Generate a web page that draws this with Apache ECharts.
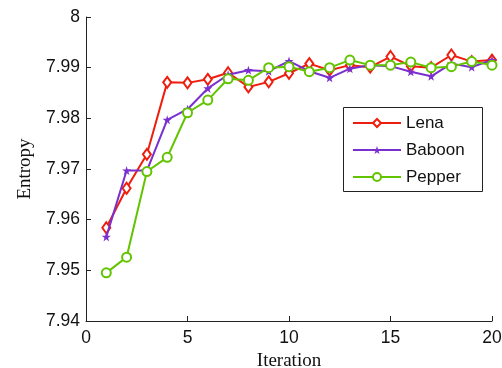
<!DOCTYPE html>
<html>
<head>
<meta charset="utf-8">
<script src="https://cdn.jsdelivr.net/npm/echarts@6/dist/echarts.min.js"></script>
<style>
  html, body { margin: 0; padding: 0; background: #fff; }
  #chart { width: 502px; height: 368px; }
</style>
</head>
<body>
<div id="chart"></div>
<script>
// data
const iterations = [1, 2, 3, 4, 5, 6, 7, 8, 9, 10, 11, 12, 13, 14, 15, 16, 17, 18, 19, 20];
const lena = [7.9584, 7.9662, 7.9729, 7.9871, 7.9870, 7.9877, 7.9890, 7.9862, 7.9872, 7.9889,
  7.9908, 7.9895, 7.9905, 7.9901, 7.9922, 7.9903, 7.9900, 7.9925, 7.9912, 7.9915];
const baboon = [7.9566, 7.9697, 7.9697, 7.9797, 7.9818, 7.9859, 7.9886, 7.9895, 7.9893, 7.9913,
  7.9893, 7.9880, 7.9898, 7.9905, 7.9903, 7.9892, 7.9883, 7.9908, 7.9901, 7.9915];
const pepper = [7.9495, 7.9526, 7.9695, 7.9723, 7.9811, 7.9836, 7.9878, 7.9875, 7.9900, 7.9902,
  7.9892, 7.9900, 7.9915, 7.9905, 7.9905, 7.9911, 7.9900, 7.9902, 7.9912, 7.9905];
const seriesNames = ["Lena", "Baboon", "Pepper"];

const colors = { Lena: "#ee1e0e", Baboon: "#7a2fcf", Pepper: "#62c400" };

// little star used for the baboon markers
const starPath = "path://M5,0 L6.2,3.6 L10,3.6 L7,5.9 L8.1,9.5 L5,7.3 L1.9,9.5 L3,5.9 L0,3.6 L3.8,3.6 Z";

const pairs = (ys) => iterations.map((x, i) => [x, ys[i]]);

const chart = echarts.init(document.getElementById("chart"), null, { renderer: "canvas" });

const option = {
  backgroundColor: "#fff",
  animation: false,
  // keep the plot box fixed, labels may sit outside it
  grid: { left: 86, right: 10, top: 17, bottom: 47, outerBoundsMode: "none", containLabel: false },
  xAxis: {
    type: "value",
    min: 0,
    max: 20,
    interval: 5,
    name: "Iteration",
    nameLocation: "middle",
    nameGap: 28,
    nameTextStyle: { fontFamily: "Liberation Serif", fontSize: 19, color: "#111" },
    axisLine: { lineStyle: { color: "#222", width: 1 } },
    axisTick: { inside: true, length: 5, lineStyle: { color: "#222" } },
    axisLabel: { fontFamily: "Liberation Sans", fontSize: 17.5, color: "#111", margin: 8 },
    splitLine: { show: false },
  },
  yAxis: {
    type: "value",
    min: 7.94,
    max: 8,
    interval: 0.01,
    name: "Entropy",
    nameLocation: "middle",
    nameGap: 51,
    nameTextStyle: { fontFamily: "Liberation Serif", fontSize: 19, color: "#111" },
    axisLine: { show: true, lineStyle: { color: "#222", width: 1 } },
    axisTick: { show: true, inside: true, length: 5, lineStyle: { color: "#222" } },
    axisLabel: {
      fontFamily: "Liberation Sans",
      fontSize: 17.5,
      color: "#111",
      margin: 6,
      formatter: (v) => String(+v.toFixed(2)),
    },
    splitLine: { show: false },
  },
  legend: {
    data: seriesNames,
    orient: "vertical",
    left: 352,
    top: 114,
    itemWidth: 48,
    itemHeight: 10,
    itemGap: 9,
    padding: 0,
    textStyle: { fontFamily: "Liberation Sans", fontSize: 17, color: "#111", lineHeight: 18 },
  },
  graphic: [
    {
      type: "rect",
      left: 343,
      top: 107,
      shape: { width: 139, height: 84 },
      style: { fill: "#fff", stroke: "#222", lineWidth: 1 },
    },
  ],
  series: [
    {
      name: "Lena",
      type: "line",
      data: pairs(lena),
      color: colors.Lena,
      symbol: "emptyDiamond",
      symbolSize: [8, 11],
      lineStyle: { width: 2 },
      itemStyle: { borderWidth: 2 },
      z: 3,
    },
    {
      name: "Baboon",
      type: "line",
      data: pairs(baboon),
      color: colors.Baboon,
      symbol: starPath,
      symbolSize: 9,
      lineStyle: { width: 2 },
      z: 4,
    },
    {
      name: "Pepper",
      type: "line",
      data: pairs(pepper),
      color: colors.Pepper,
      symbol: "emptyCircle",
      symbolSize: 9,
      lineStyle: { width: 2 },
      itemStyle: { borderWidth: 2 },
      z: 5,
    },
  ],
};

chart.setOption(option);
</script>
</body>
</html>
